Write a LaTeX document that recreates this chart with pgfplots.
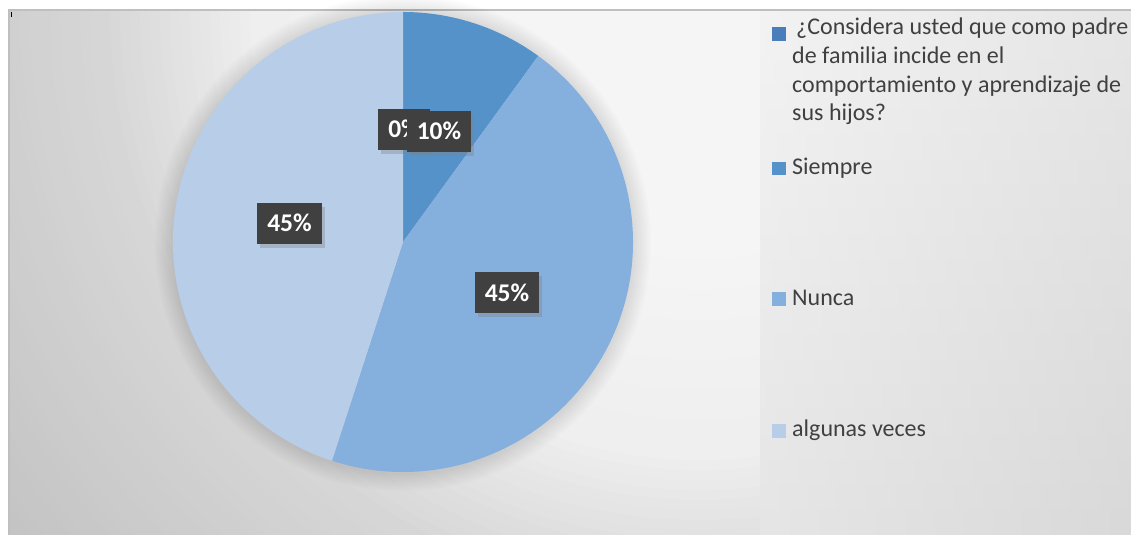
\documentclass[border=0pt]{standalone}
\usepackage{fontspec}
\setmainfont{Carlito}
\usepackage{pgfplots}
\usepackage{pgfplotstable}
\pgfplotsset{compat=1.18}
\usetikzlibrary{shadows}
\definecolor{slice0}{HTML}{4A7EBB}
\definecolor{slice1}{HTML}{5592CA}
\definecolor{slice2}{HTML}{85AFDD}
\definecolor{slice3}{HTML}{B8CDE8}
\definecolor{lblbg}{HTML}{404040}
\definecolor{txt}{HTML}{404040}
\definecolor{framec}{HTML}{BFBFBF}
% category, percentage, label box centre (pixel x, pixel y from top)
\pgfplotstableread{
cat value lx ly
Q 0 404 129.5
Siempre 10 439 131.5
Nunca 45 507 293
Algunas 45 289.5 223.5
}\piedata

\begin{document}
\begin{tikzpicture}
\begin{axis}[at={(0,0)}, anchor=south west, scale only axis,
  width=1131bp, height=535bp, xmin=0, xmax=1131, ymin=0, ymax=535,
  hide axis, clip=false]
\pgfplotsextra{%
  % background
  \fill[white] (axis cs:0,0) rectangle (axis cs:1131,535);
  \begin{scope}
    \clip (axis cs:9,0) rectangle (axis cs:1131,525);
    \foreach \r in {900,890,...,250}{%
      \pgfmathtruncatemacro\l{\r<=450 ? 245-(\r-250)*0.03 : (\r<=600 ? 239-(\r-450)*0.16 : 215-(\r-600)*0.07)}%
      \definecolor{ringc}{RGB}{\l,\l,\l}%
      \fill[ringc] (axis cs:700,525) circle (\r bp);
    }
    \fill[white!96!black] (axis cs:700,525) circle (240bp);
  \end{scope}
  % legend panel
  \foreach \k in {0,...,20}{%
    \pgfmathsetmacro\la{5+5*\k/20}%
    \pgfmathsetmacro\lb{10+5*\k/20}%
    \shade[left color=black!\la, right color=black!\lb]
      (axis cs:760,{525-25*\k}) rectangle (axis cs:1131,{525-25*(\k+1)});
  }
  \draw[framec, line width=2bp] (axis cs:9,0) -- (axis cs:9,525) -- (axis cs:1131,525);
  \draw[black, line width=1bp] (axis cs:11.5,523) -- (axis cs:11.5,518);
  % pie shadow
  \foreach \r in {248,246,...,232}{%
    \fill[black, opacity=0.012] (axis cs:403,292) circle (\r bp);
  }
  % slices
  \def\curang{90}%
  \pgfplotsforeachungrouped \i in {0,...,3}{%
    \pgfplotstablegetelem{\i}{value}\of\piedata
    \pgfmathsetmacro\endang{\curang-3.6*\pgfplotsretval}%
    \edef\cc{slice\i}%
    \fill[fill=\cc] (axis cs:403,293) -- ++(\curang:230bp)
      arc[start angle=\curang, end angle=\endang, radius=230bp] -- cycle;
    \let\curang\endang
  }%
  % labels
  \pgfplotsforeachungrouped \i in {0,...,3}{%
    \pgfplotstablegetelem{\i}{value}\of\piedata \let\v\pgfplotsretval
    \pgfplotstablegetelem{\i}{lx}\of\piedata \let\lx\pgfplotsretval
    \pgfplotstablegetelem{\i}{ly}\of\piedata \let\ly\pgfplotsretval
    \pgfmathsetmacro\lyy{535-\ly}%
    \node[fill=lblbg, text=white, font=\bfseries\fontsize{25.5bp}{30bp}\selectfont,
      inner xsep=10bp, inner ysep=0bp, text height=17bp, text depth=0bp,
      minimum height=41bp,
      drop shadow={shadow xshift=3bp, shadow yshift=-4bp, opacity=0.35}]
      at (axis cs:\lx,\lyy) {\v\%};
  }%
  % legend
  \fill[slice0] (axis cs:772,494) rectangle (axis cs:786,508);
  \fill[slice1] (axis cs:772,360) rectangle (axis cs:786,373);
  \fill[slice2] (axis cs:772,229) rectangle (axis cs:786,243);
  \fill[slice3] (axis cs:772,97) rectangle (axis cs:786,111);
  \begin{scope}[every node/.style={anchor=base west, inner sep=0pt, text=txt,
      font=\fontsize{24bp}{28.6bp}\selectfont}]
    \node at (axis cs:796,500) {¿Considera usted que como padre};
    \node at (axis cs:792,471.4) {de familia incide en el};
    \node at (axis cs:792,442.8) {comportamiento y aprendizaje de};
    \node at (axis cs:792,414.2) {sus hijos?};
    \node at (axis cs:792,360) {Siempre};
    \node at (axis cs:792,229) {Nunca};
    \node at (axis cs:792,98) {algunas veces};
  \end{scope}
}
\end{axis}
\pgfresetboundingbox
\path[use as bounding box] (0,0) rectangle (1131bp,535bp);
\end{tikzpicture}
\end{document}
